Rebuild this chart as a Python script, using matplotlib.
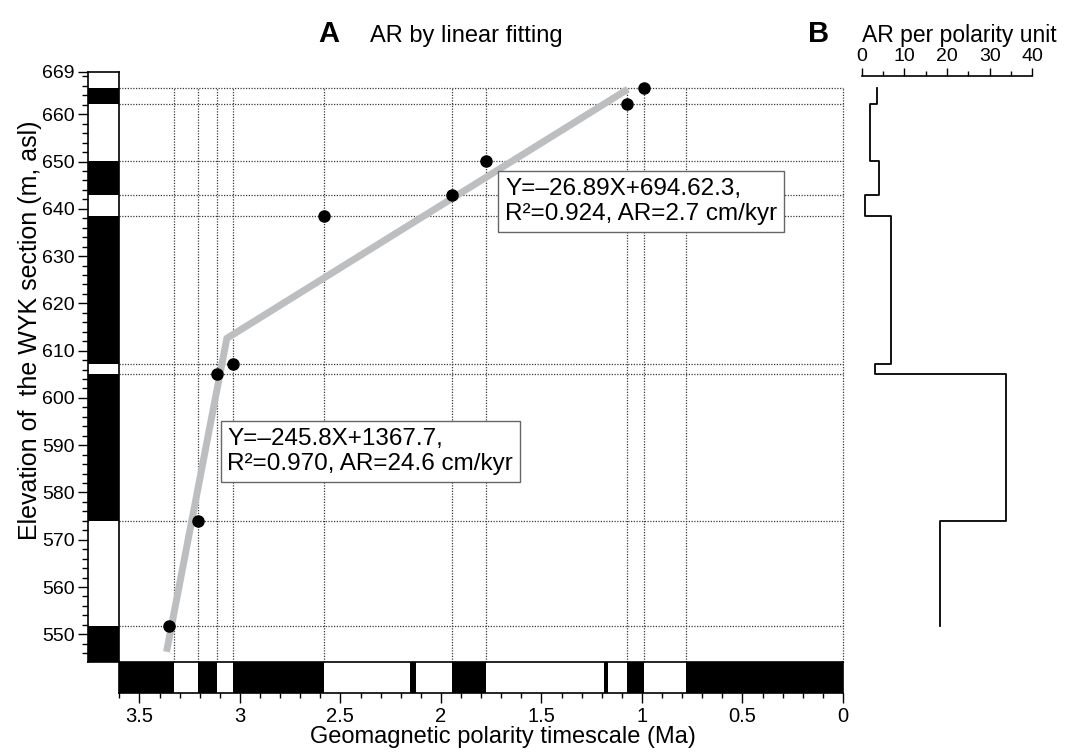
import numpy as np
import matplotlib.pyplot as plt
from matplotlib.ticker import MultipleLocator, FuncFormatter

plt.rcParams['font.family'] = ['Liberation Sans', 'DejaVu Sans']

# GPTS normal-polarity intervals (Ma)
gpts_normal_young = [0.0, 0.988, 1.170, 1.778, 2.126, 2.581, 3.116, 3.330]
gpts_normal_old = [0.781, 1.072, 1.187, 1.945, 2.153, 3.032, 3.207, 3.600]
gpts_lines = [0.0, 0.781, 0.988, 1.072, 1.778, 1.945, 2.581, 3.032, 3.116, 3.207, 3.330]

# WYK section normal-polarity zones (m asl)
section_normal_top = [665.5, 650.1, 638.5, 605.1, 551.7]
section_normal_base = [662.2, 642.9, 607.2, 574.0, 544.2]
section_lines = [665.5, 662.2, 650.1, 642.9, 638.5, 607.2, 605.1, 574.0, 551.7]

# tie points (age, elevation)
tie_age = [0.988, 1.072, 1.778, 1.945, 2.581, 3.032, 3.116, 3.207, 3.355]
tie_elev = [665.5, 662.2, 650.1, 642.9, 638.5, 607.2, 605.1, 574.0, 551.7]

# linear fits
fit_age = [3.365, 3.065, 1.07]
fit_elev = [546.3, 612.6, 665.3]

# AR per polarity unit (cm/kyr)
ar_top = [665.5, 662.2, 650.1, 642.9, 638.5, 607.2, 605.1, 574.0]
ar_base = [662.2, 650.1, 642.9, 638.5, 607.2, 605.1, 574.0, 551.7]
ar_rate = [3.5, 1.9, 4.1, 0.8, 6.9, 3.1, 33.8, 18.4]

ylim = (544.2, 669)
xlim = (3.6, 0)

W, H = 1067, 752
fig = plt.figure(figsize=(W / 100, H / 100), dpi=100)
L, R = 119.3 / W, 843 / W
T, B = 1 - 71.7 / H, 1 - 661.7 / H

ax = fig.add_axes([L, B, R - L, T - B])
axc = fig.add_axes([88.3 / W, B, (119.3 - 88.3) / W, T - B])
axb = fig.add_axes([L, 1 - 692.7 / H, R - L, (692.7 - 661.7) / H])
axB = fig.add_axes([861.7 / W, B, (1032.3 - 861.7) / W, T - B])

# main panel
ax.set_xlim(xlim)
ax.set_ylim(ylim)
ax.axis('off')
dot = (0, (1, 1.2))
ax.vlines(gpts_lines, ylim[0], max(section_lines), colors='#3a3a3a', lw=0.9,
          linestyles=dot, clip_on=False)
ax.hlines(section_lines, xlim[0], xlim[1], colors='#3a3a3a', lw=0.9,
          linestyles=dot, clip_on=False)
ax.plot(fit_age, fit_elev, color='#bcbec0', lw=5, solid_capstyle='butt',
        solid_joinstyle='miter', zorder=3)
ax.plot(tie_age, tie_elev, 'o', color='k', ms=8, zorder=4)

box = dict(boxstyle='square,pad=0.28', fc='white', ec='#666666', lw=1)
ax.text(0.533, 0.8203, 'Y=\u201326.89X+694.62.3,\nR\u00b2=0.924, AR=2.7 cm/kyr',
        transform=ax.transAxes, ha='left', va='top', fontsize=17.5,
        linespacing=1.18, bbox=box, zorder=5)
ax.text(0.1494, 0.3966, 'Y=\u2013245.8X+1367.7,\nR\u00b2=0.970, AR=24.6 cm/kyr',
        transform=ax.transAxes, ha='left', va='top', fontsize=17.5,
        linespacing=1.18, bbox=box, zorder=5)

# section polarity column
axc.bar(0, np.subtract(section_normal_top, section_normal_base),
        bottom=section_normal_base, width=1, color='k')
axc.set_xlim(-0.5, 0.5)
axc.set_ylim(ylim)
axc.set_xticks([])
axc.set_yticks(list(range(550, 661, 10)) + [669])
axc.yaxis.set_minor_locator(MultipleLocator(2))
axc.tick_params(axis='y', which='major', direction='out', length=7, width=1,
                labelsize=14, pad=3)
axc.tick_params(axis='y', which='minor', direction='out', length=4, width=1)
for s in axc.spines.values():
    s.set_linewidth(1.2)

# GPTS bar
axb.barh(0, np.subtract(gpts_normal_old, gpts_normal_young),
         left=gpts_normal_young, height=1, color='k')
axb.set_xlim(xlim)
axb.set_ylim(-0.5, 0.5)
axb.set_yticks([])
axb.xaxis.set_major_locator(MultipleLocator(0.5))
axb.xaxis.set_minor_locator(MultipleLocator(0.1))
axb.xaxis.set_major_formatter(FuncFormatter(lambda v, p: f'{v:g}'))
axb.tick_params(axis='x', which='major', direction='out', length=7, width=1,
                labelsize=14.5, pad=3)
axb.tick_params(axis='x', which='minor', direction='out', length=3.5, width=1)
for s in axb.spines.values():
    s.set_linewidth(1.2)

# panel B
y_step = np.column_stack([ar_top, ar_base]).ravel()
x_step = np.repeat(ar_rate, 2)
axB.plot(x_step, y_step, color='k', lw=1.3)
axB.set_xlim(0, 40)
axB.set_ylim(ylim)
for side in ['left', 'right', 'bottom']:
    axB.spines[side].set_visible(False)
axB.spines['top'].set_position(('data', 668))
axB.spines['top'].set_linewidth(1.2)
axB.set_yticks([])
axB.xaxis.set_ticks_position('top')
axB.xaxis.set_major_locator(MultipleLocator(10))
axB.xaxis.set_minor_locator(MultipleLocator(5))
axB.tick_params(axis='x', which='major', direction='out', length=6, width=1,
                labelsize=14, pad=2)
axB.tick_params(axis='x', which='minor', direction='out', length=3.5, width=1)

# titles and axis labels
fig.text(318 / W, 1 - 42 / H, 'A', fontsize=21, fontweight='bold', va='baseline')
fig.text(370 / W, 1 - 42 / H, 'AR by linear fitting', fontsize=17, va='baseline')
fig.text(808 / W, 1 - 42 / H, 'B', fontsize=21, fontweight='bold', va='baseline')
fig.text(862 / W, 1 - 42 / H, 'AR per polarity unit', fontsize=16.5, va='baseline')
fig.text(502.5 / W, 1 - 737 / H, 'Geomagnetic polarity timescale (Ma)',
         fontsize=17, ha='center', va='center')
fig.text(30 / W, 1 - 330 / H, 'Elevation of  the WYK section (m, asl)',
         fontsize=18, rotation=90, ha='center', va='center')

fig.savefig('out.png', dpi=100)
